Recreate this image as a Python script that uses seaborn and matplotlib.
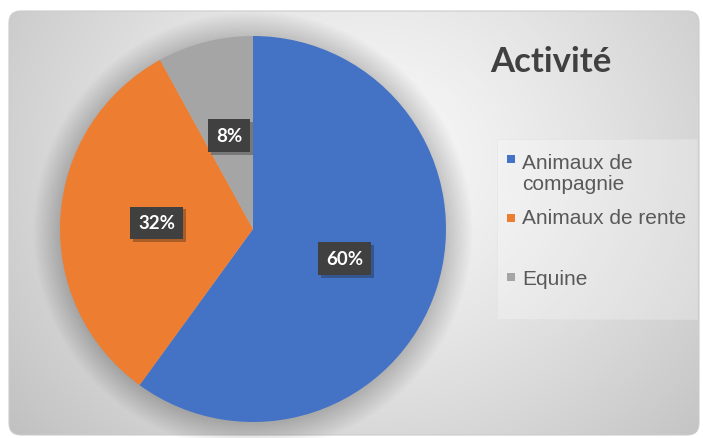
import numpy as np
import matplotlib
matplotlib.use("Agg")
import matplotlib.pyplot as plt
import seaborn as sns
from matplotlib.patches import FancyBboxPatch, Rectangle, Circle
import matplotlib.patheffects as pe

# ---- data ----
categories = ["Animaux de\ncompagnie", "Animaux de rente", "Equine"]
values = [60, 32, 8]
colors = ["#4472C4", "#ED7D31", "#A5A5A5"]
title = "Activité"

sns.set_style("white")
plt.rcParams['font.family'] = ['Liberation Sans', 'DejaVu Sans']

W, H = 703, 439
fig = plt.figure(figsize=(W / 100, H / 100), dpi=100)
fig.patch.set_facecolor("white")

# ---- background panel with radial gradient ----
bg = fig.add_axes([0, 0, 1, 1])
bg.set_xlim(0, W)
bg.set_ylim(H, 0)
bg.axis("off")
yy, xx = np.mgrid[0:H, 0:W]
r = np.sqrt(((xx - 370) / 1.0) ** 2 + ((yy - 160) / 0.9) ** 2)
t = np.clip(r / 480, 0, 1) ** 1.3
c0, c1 = 0.975, 0.75
img = c0 + (c1 - c0) * t
rgb = np.dstack([img, img, img])
panel = FancyBboxPatch((9, 12), 690, 424, boxstyle="round,pad=0,rounding_size=12",
                       transform=bg.transData, fc="none", ec="#cccccc", lw=0.8)
im = bg.imshow(rgb, extent=[0, W, H, 0], interpolation="bilinear", zorder=0)
bg.add_patch(panel)
im.set_clip_path(panel)

# ---- legend box ----
bg.add_patch(Rectangle((497, 140), 200, 180, fc=(1, 1, 1, 0.25), ec=(0.88, 0.88, 0.88, 0.5), lw=0.6, zorder=2))

# ---- pie ----
cx, cy, rad = 253, 230, 193
ax = fig.add_axes([(cx - rad) / W, (H - cy - rad) / H, 2 * rad / W, 2 * rad / H])
ax.set_facecolor("none")
# soft diffuse shadow around pie
for i in range(24):
    ax.add_patch(Circle((0.0, -0.01), 1.0 + 0.006 * i, fc="black", alpha=0.006, ec="none",
                        zorder=0, clip_on=False))
wedges, texts, autotexts = ax.pie(
    values, colors=colors, startangle=90, counterclock=False,
    autopct=lambda p: f"{p:.0f}%", pctdistance=0.5, radius=1.0,
    wedgeprops=dict(linewidth=0, zorder=2),
    textprops=dict(color="white", fontsize=13.5, fontweight="bold", family=["Lato", "DejaVu Sans"]),
)
for at in autotexts:
    at.set_bbox(dict(boxstyle="square,pad=0.42", fc="#404040", ec="none"))
    at.get_bbox_patch().set_path_effects([pe.SimplePatchShadow(offset=(2, -2), alpha=0.3), pe.Normal()])
    at.set_zorder(5)
ax.set_xlim(-1, 1)
ax.set_ylim(-1, 1)
ax.axis("off")

# ---- title ----
fig.text(490 / W, 1 - 72 / H, title, fontsize=25, fontweight="bold", color="#404040",
         ha="left", va="baseline", family=["Lato", "DejaVu Sans"])

# ---- legend (manual, Excel-like spacing) ----
baselines = [190, 224, 285]
sq_centers = [160, 219, 278]
for lab, col, b, sc in zip(categories, colors, baselines, sq_centers):
    bg.add_patch(Rectangle((507, sc - 4), 8, 8, fc=col, ec="none", zorder=3))
    bg.text(522, b, lab, fontsize=15, color="#595959", ha="left", va="baseline",
            linespacing=1.12, zorder=3)

fig.savefig("out.png", dpi=100, facecolor="white")
